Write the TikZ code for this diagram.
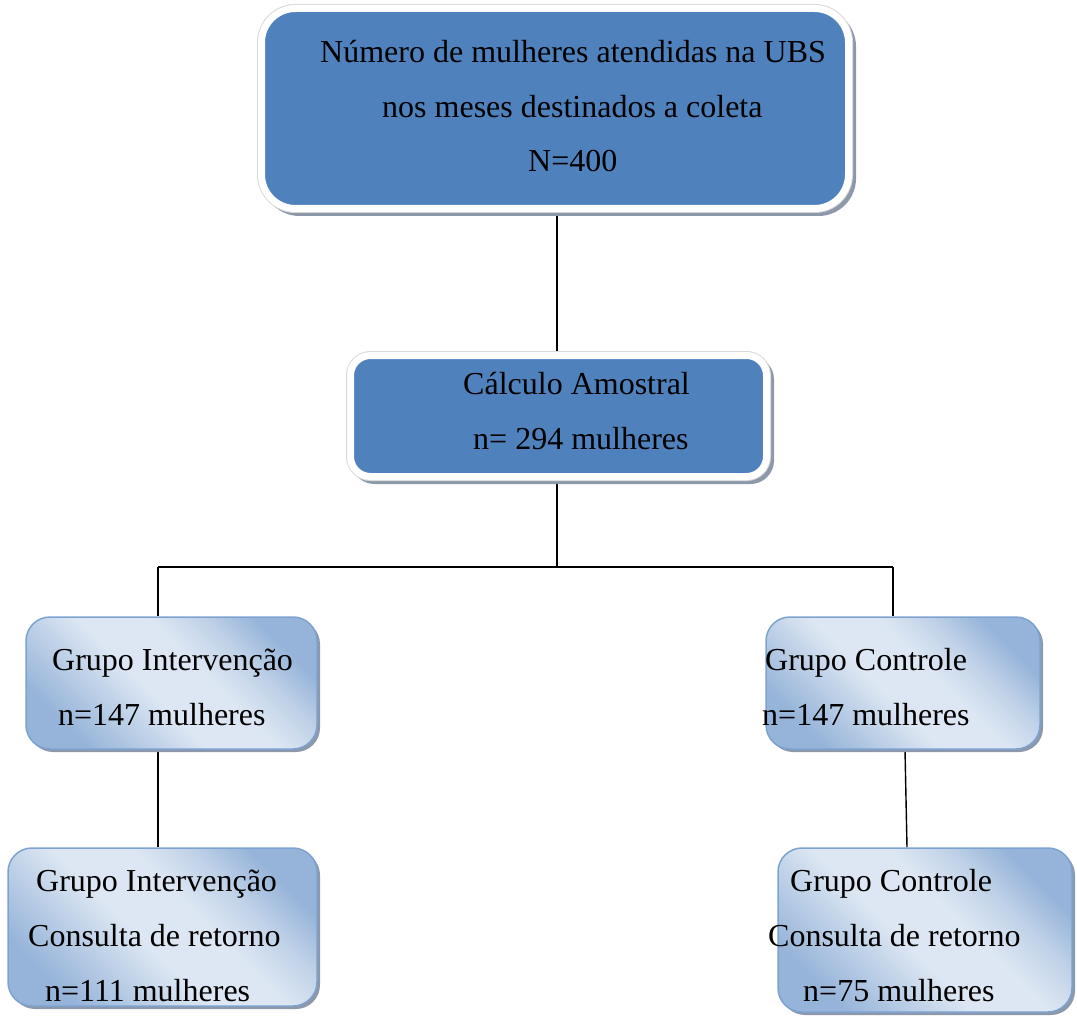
\documentclass[tikz,border=0pt]{standalone}
\usepackage{fontspec}
\setmainfont{Liberation Serif}
\usetikzlibrary{shadows,backgrounds,calc}
\definecolor{wblue}{HTML}{4F81BD}
\definecolor{gdark}{HTML}{96B4D9}
\definecolor{gmid}{HTML}{C0D2E8}
\definecolor{glight}{HTML}{DDE7F3}
\definecolor{gedge}{HTML}{7EA2CF}
\definecolor{bshadow}{HTML}{8D99AA}
\pgfdeclareverticalshading{gsh}{100bp}{color(0bp)=(gdark); color(25bp)=(gdark); color(37bp)=(gmid); color(45bp)=(glight); color(57bp)=(glight); color(66bp)=(gmid); color(75bp)=(gdark); color(100bp)=(gdark)}
\begin{document}
\begin{tikzpicture}[x=1pt,y=-1pt,
  bluebox/.style={rectangle, inner sep=0pt, fill=wblue,
    general shadow={fill=bshadow, draw=bshadow, line width=7pt, shadow xshift=4pt, shadow yshift=-4pt},
    preaction={draw=gray!30, line width=9pt},
    draw=white, line width=7pt},
  gradbox/.style={rectangle, inner sep=0pt, rounded corners=24pt,
    general shadow={fill=bshadow, shadow xshift=3pt, shadow yshift=-3pt},
    shading=gsh, shading angle=-45,
    draw=gedge, line width=1.5pt},
  txt/.style={anchor=base west, inner sep=0pt, font=\fontsize{32}{38}\selectfont},
  conn/.style={draw=black, line width=1.4pt}]
\useasboundingbox (0,0) rectangle (1077,1019);

% boxes
\node[bluebox, rounded corners=34pt, minimum width=587pt, minimum height=200pt] (top) at (555,108.5) {};
\node[bluebox, rounded corners=20pt, minimum width=416pt, minimum height=121pt] (mid) at (558.5,416) {};
\node[gradbox, minimum width=291pt, minimum height=132pt] (gi) at (171.5,683) {};
\node[gradbox, minimum width=274pt, minimum height=132pt] (gc) at (903,683) {};
\node[gradbox, minimum width=309pt, minimum height=158pt] (gi2) at (162.5,927) {};
\node[gradbox, minimum width=294pt, minimum height=164pt] (gc2) at (925,930) {};

% texts
\node[txt] (t1) at (320,63) {Número de mulheres atendidas na UBS};
\node[txt] (t2) at (382,118) {nos meses destinados a coleta};
\node[txt] (t3) at (528,172) {N=400};
\node[txt] (m1) at (463,394) {Cálculo Amostral};
\node[txt] (m2) at (473,449) {n= 294 mulheres};
\node[txt] (a1) at (52,670) {Grupo Intervenção};
\node[txt] (a2) at (58,725) {n=147 mulheres};
\node[txt] (b1) at (765,670) {Grupo Controle};
\node[txt] (b2) at (762,725) {n=147 mulheres};
\node[txt] (c1) at (36,891) {Grupo Intervenção};
\node[txt] (c2) at (28,946) {Consulta de retorno};
\node[txt] (c3) at (45,1001) {n=111 mulheres};
\node[txt] (d1) at (790,891) {Grupo Controle};
\node[txt] (d2) at (768,946) {Consulta de retorno};
\node[txt] (d3) at (803,1001) {n=75 mulheres};

% connectors
\coordinate (jc) at (557,567);
\coordinate (jl) at (158,567);
\coordinate (jr) at (893,567);
\begin{pgfonlayer}{background}
\draw[conn] (top.south -| jc) -- (mid.north -| jc);
\draw[conn] (mid.south -| jc) -- (jc);
\draw[conn] (jl) -- (jr);
\draw[conn] (jl) -- (jl |- gi.north);
\draw[conn] (jr) -- (jr |- gc.north);
\draw[conn] (jl |- gi.south) -- (jl |- gi2.north);
\draw[conn] ([xshift=2pt]gc.south) -- ([xshift=-18pt]gc2.north);
\end{pgfonlayer}
\end{tikzpicture}
\end{document}
